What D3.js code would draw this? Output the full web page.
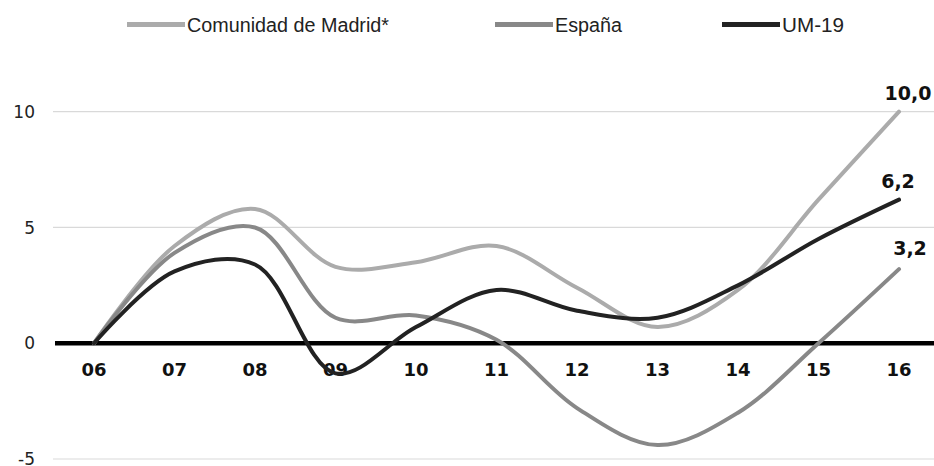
<!DOCTYPE html>
<html><head><meta charset="utf-8">
<script src="https://cdn.jsdelivr.net/npm/d3@7"></script>
<style>body{margin:0;background:#fff}svg{display:block}</style>
</head><body>
<script>
const years = ["06","07","08","09","10","11","12","13","14","15","16"];
const madrid = [0, 4.2, 5.8, 3.3, 3.5, 4.2, 2.4, 0.7, 2.3, 6.2, 10.0];
const espana = [0, 3.9, 5.0, 1.1, 1.2, 0.15, -2.8, -4.4, -3.0, 0.0, 3.2];
const um19   = [0, 3.1, 3.4, -1.3, 0.7, 2.3, 1.4, 1.1, 2.5, 4.5, 6.2];
const yTicks = [-5, 0, 5, 10];
const seriesNames = ["Comunidad de Madrid*", "España", "UM-19"];
const seriesColors = ["#ababab", "#888888", "#222222"];
const endLabels = ["10,0", "3,2", "6,2"];

const W = 934, H = 466;
const svg = d3.select("body").append("svg").attr("width", W).attr("height", H);

const x = d3.scalePoint().domain(years).range([94, 899]);
const y = d3.scaleLinear().domain([-5, 10]).range([459, 111.7]);

// gridlines
svg.append("g").selectAll("line").data(yTicks.filter(d => d !== 0)).join("line")
  .attr("x1", 53).attr("x2", W)
  .attr("y1", d => y(d)).attr("y2", d => y(d))
  .attr("stroke", "#d9d9d9").attr("stroke-width", 1.2);

// y labels
svg.append("g").selectAll("text").data(yTicks).join("text")
  .attr("x", 35).attr("y", d => y(d)).attr("dy", "0.36em")
  .attr("text-anchor", "end")
  .attr("font-family", "DejaVu Sans, Verdana, sans-serif")
  .attr("font-size", 17).attr("fill", "#222")
  .text(d => d);

// zero line
svg.append("line").attr("x1", 55).attr("x2", W)
  .attr("y1", y(0)).attr("y2", y(0))
  .attr("stroke", "#000").attr("stroke-width", 4.5);

// x labels
svg.append("g").selectAll("text").data(years).join("text")
  .attr("x", d => x(d)).attr("y", 376)
  .attr("text-anchor", "middle")
  .attr("font-family", "DejaVu Sans, Verdana, sans-serif")
  .attr("font-weight", "bold").attr("font-size", 18).attr("fill", "#111")
  .text(d => d);

const series = [madrid, espana, um19];
const line = d3.line()
  .x((d, i) => x(years[i]))
  .y(d => y(d))
  .curve(d3.curveCatmullRom.alpha(0.5));

svg.append("g").selectAll("path").data(series).join("path")
  .attr("d", d => line(d))
  .attr("fill", "none")
  .attr("stroke", (d, i) => seriesColors[i])
  .attr("stroke-width", 4)
  .attr("stroke-linecap", "round");

// end labels
const endPos = [[908, 100], [910, 255], [898, 188]];
svg.append("g").selectAll("text").data(endLabels).join("text")
  .attr("x", (d, i) => endPos[i][0]).attr("y", (d, i) => endPos[i][1])
  .attr("text-anchor", "middle")
  .attr("font-family", "DejaVu Sans, Verdana, sans-serif")
  .attr("font-weight", "bold").attr("font-size", 19).attr("fill", "#111")
  .text(d => d);

// legend
const legX = [127, 495, 722];
const legW = [202, 67, 62];
const leg = svg.append("g").selectAll("g").data(seriesNames).join("g");
leg.append("line")
  .attr("x1", (d, i) => legX[i]).attr("x2", (d, i) => legX[i] + 58)
  .attr("y1", 24.5).attr("y2", 24.5)
  .attr("stroke", (d, i) => seriesColors[i]).attr("stroke-width", 5);
leg.append("text")
  .attr("x", (d, i) => legX[i] + 60).attr("y", 31.5)
  .attr("font-family", "Liberation Sans, Arial, sans-serif")
  .attr("font-size", 20).attr("fill", "#222")
  .attr("textLength", (d, i) => legW[i]).attr("lengthAdjust", "spacingAndGlyphs")
  .text(d => d);
</script>
</body></html>
